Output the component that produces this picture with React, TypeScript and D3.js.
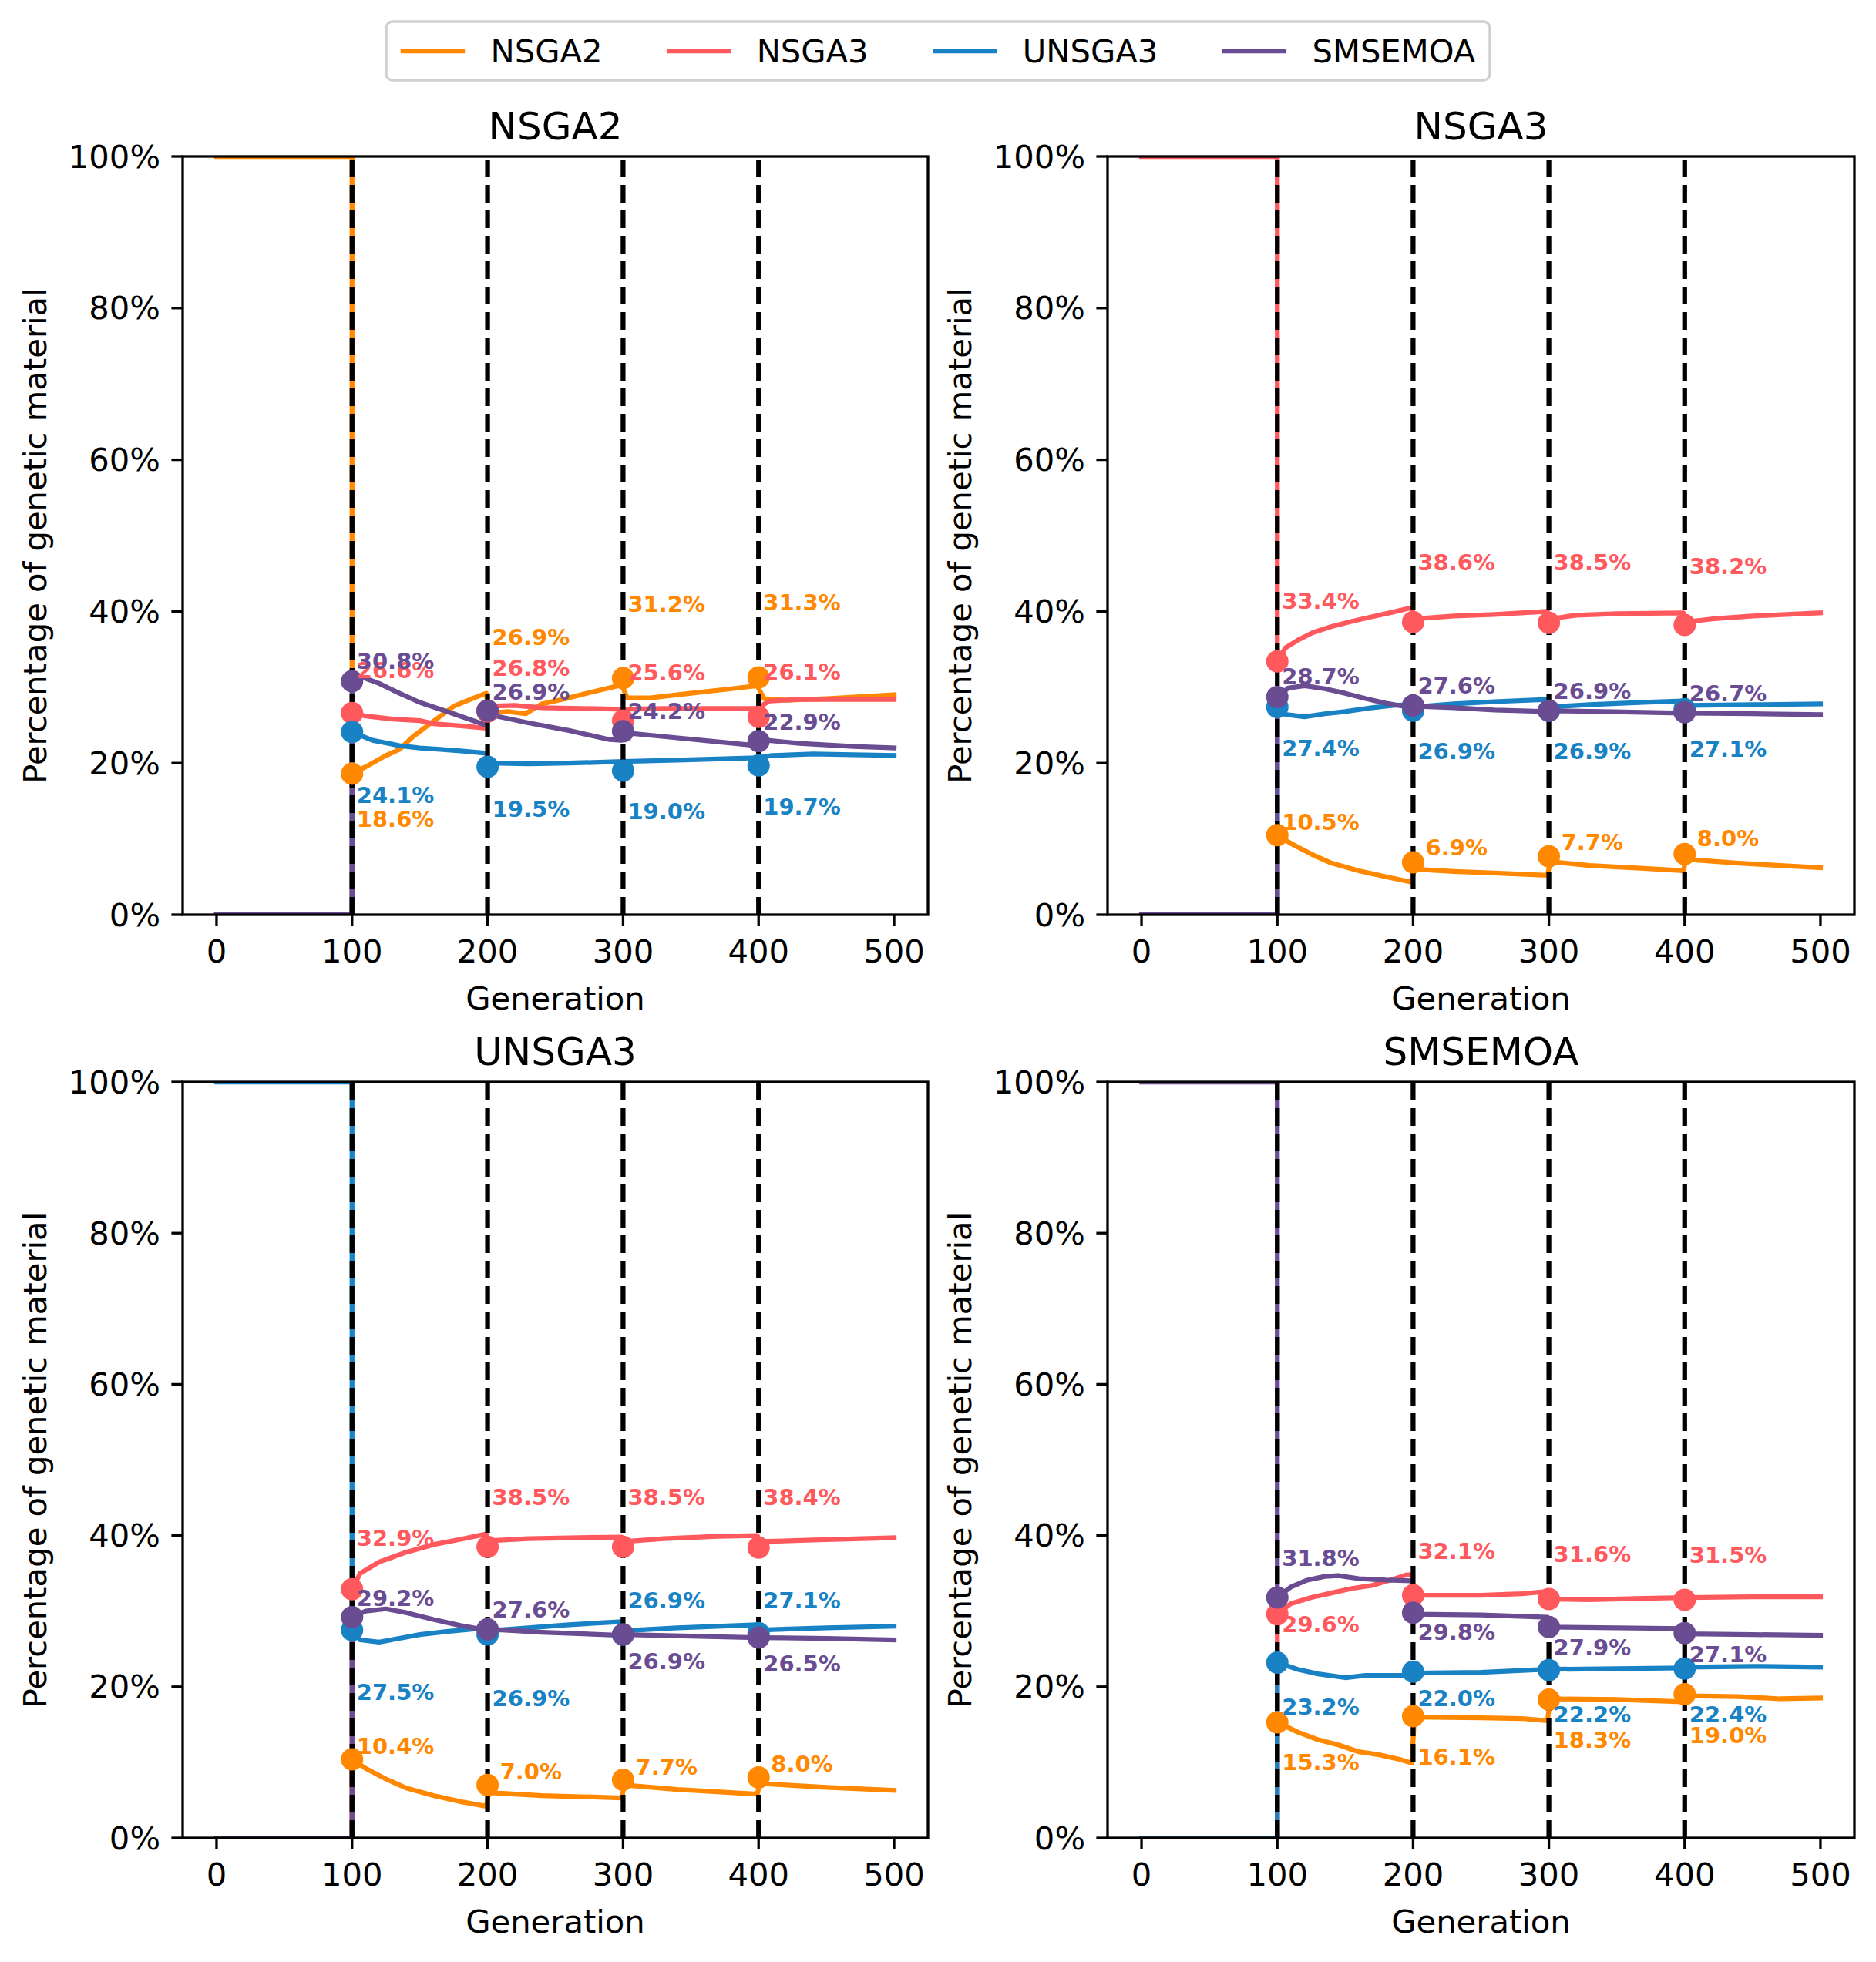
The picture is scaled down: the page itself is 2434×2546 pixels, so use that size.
import React, { useEffect, useRef } from "react";
import * as d3 from "d3";

const algorithms = ["NSGA2", "NSGA3", "UNSGA3", "SMSEMOA"];
const colors = ["#FF8800", "#FF595E", "#1982C4", "#6A4C93"];
const checkpoints = [100, 200, 300, 400];
const xTicks = [0, 100, 200, 300, 400, 500];
const yTicks = [0, 20, 40, 60, 80, 100];

// share (%) recorded at each checkpoint, rows follow `algorithms`
const nsga2Marks = [
  [18.6, 26.9, 31.2, 31.3],
  [26.6, 26.8, 25.6, 26.1],
  [24.1, 19.5, 19.0, 19.7],
  [30.8, 26.9, 24.2, 22.9],
];
const nsga3Marks = [
  [10.5, 6.9, 7.7, 8.0],
  [33.4, 38.6, 38.5, 38.2],
  [27.4, 26.9, 26.9, 27.1],
  [28.7, 27.6, 26.9, 26.7],
];
const unsga3Marks = [
  [10.4, 7.0, 7.7, 8.0],
  [32.9, 38.5, 38.5, 38.4],
  [27.5, 26.9, 26.9, 27.1],
  [29.2, 27.6, 26.9, 26.5],
];
const smsemoaMarks = [
  [15.3, 16.1, 18.3, 19.0],
  [29.6, 32.1, 31.6, 31.5],
  [23.2, 22.0, 22.2, 22.4],
  [31.8, 29.8, 27.9, 27.1],
];

// share of genetic material per generation: [generation, %]
const nsga2Trace = [
  [[0, 100], [100, 100], [100, 18.6], [110, 19.5], [125, 21], [135, 21.8], [145, 23.5], [160, 25.5], [175, 27.5], [190, 28.6], [199, 29.2], [201, 26.6], [215, 26.8], [228, 26.5], [240, 27.8], [260, 28.6], [280, 29.5], [299, 30.3], [303, 28.6], [320, 28.6], [350, 29.2], [380, 29.8], [399, 30.2], [404, 28.5], [420, 28.3], [450, 28.5], [480, 28.8], [500, 29.0]],
  [[0, 0], [100, 0], [100, 26.6], [110, 26.2], [130, 25.8], [150, 25.6], [160, 25.2], [180, 24.9], [199, 24.6], [201, 27.5], [220, 27.6], [240, 27.3], [270, 27.2], [300, 27.1], [330, 27.2], [360, 27.2], [399, 27.2], [408, 28.2], [430, 28.4], [470, 28.4], [500, 28.4]],
  [[0, 0], [100, 0], [100, 24.1], [115, 23.0], [135, 22.3], [150, 22.0], [165, 21.8], [180, 21.6], [199, 21.3], [201, 20.0], [230, 19.9], [260, 20.0], [300, 20.2], [340, 20.4], [399, 20.7], [410, 21.0], [440, 21.2], [470, 21.1], [500, 21.0]],
  [[0, 0], [100, 0], [100, 30.8], [108, 31.3], [120, 30.5], [135, 29.2], [150, 28.0], [170, 26.8], [199, 25.0], [201, 26.4], [230, 25.3], [260, 24.3], [290, 23.1], [299, 23.0], [301, 24.0], [330, 23.5], [370, 22.8], [399, 22.3], [401, 23.1], [430, 22.6], [470, 22.2], [500, 22.0]],
];
const nsga3Trace = [
  [[0, 0], [100, 0], [100, 10.5], [110, 9.4], [125, 8.0], [140, 6.8], [160, 5.8], [180, 5.0], [199, 4.3], [201, 6.0], [230, 5.7], [260, 5.5], [299, 5.2], [301, 7.0], [330, 6.5], [370, 6.1], [399, 5.8], [401, 7.3], [440, 6.8], [470, 6.5], [500, 6.2]],
  [[0, 100], [100, 100], [100, 33.4], [106, 35.2], [115, 36.2], [126, 37.2], [140, 38.0], [155, 38.7], [170, 39.3], [185, 39.9], [199, 40.5], [201, 39.0], [230, 39.4], [260, 39.6], [299, 40.0], [301, 39.0], [320, 39.5], [350, 39.7], [399, 39.8], [401, 38.6], [420, 39.0], [450, 39.4], [500, 39.8]],
  [[0, 0], [100, 0], [100, 27.4], [106, 26.4], [120, 26.1], [135, 26.5], [150, 26.8], [170, 27.3], [185, 27.6], [199, 27.7], [201, 27.4], [230, 27.8], [260, 28.1], [299, 28.4], [301, 27.4], [330, 27.7], [370, 28.0], [399, 28.2], [401, 27.6], [450, 27.7], [500, 27.8]],
  [[0, 0], [100, 0], [100, 28.7], [108, 29.9], [120, 30.2], [135, 29.8], [150, 29.2], [165, 28.5], [180, 27.9], [199, 27.3], [201, 27.5], [230, 27.3], [260, 27.0], [299, 26.8], [301, 26.9], [340, 26.8], [399, 26.6], [401, 26.6], [450, 26.5], [500, 26.4]],
];
const unsga3Trace = [
  [[0, 0], [100, 0], [100, 10.4], [110, 9.2], [125, 7.8], [140, 6.6], [160, 5.6], [180, 4.8], [199, 4.2], [201, 6.0], [240, 5.6], [299, 5.3], [301, 7.0], [340, 6.4], [399, 5.8], [401, 7.2], [450, 6.7], [500, 6.3]],
  [[0, 0], [100, 0], [100, 32.9], [106, 35.0], [120, 36.5], [140, 37.8], [160, 38.8], [180, 39.5], [199, 40.2], [201, 39.3], [230, 39.6], [260, 39.7], [299, 39.8], [301, 39.2], [330, 39.6], [370, 39.9], [399, 40.0], [401, 39.2], [440, 39.4], [500, 39.7]],
  [[0, 100], [100, 100], [100, 27.5], [106, 26.2], [120, 25.9], [135, 26.4], [150, 26.9], [170, 27.3], [199, 27.8], [201, 27.4], [230, 27.8], [260, 28.2], [299, 28.6], [301, 27.4], [340, 27.8], [399, 28.2], [401, 27.5], [450, 27.8], [500, 28.0]],
  [[0, 0], [100, 0], [100, 29.2], [110, 30.0], [125, 30.3], [140, 29.8], [160, 28.9], [180, 28.1], [199, 27.5], [201, 27.6], [240, 27.2], [299, 26.8], [301, 26.9], [350, 26.7], [399, 26.5], [401, 26.5], [450, 26.4], [500, 26.2]],
];
const smsemoaTrace = [
  [[0, 0], [100, 0], [100, 15.3], [115, 14.0], [130, 13.0], [145, 12.3], [160, 11.4], [175, 11.0], [190, 10.4], [199, 9.9], [201, 16.0], [250, 15.9], [280, 15.8], [299, 15.5], [301, 18.4], [350, 18.3], [399, 18.0], [401, 18.8], [440, 18.7], [470, 18.4], [500, 18.5]],
  [[0, 0], [100, 0], [100, 29.6], [110, 31.0], [125, 31.8], [140, 32.4], [155, 33.0], [170, 33.4], [185, 34.2], [195, 34.8], [199, 34.8], [201, 32.1], [250, 32.1], [280, 32.3], [299, 32.6], [301, 31.6], [330, 31.5], [370, 31.7], [399, 31.8], [401, 31.8], [450, 31.9], [500, 31.9]],
  [[0, 0], [100, 0], [100, 23.2], [115, 22.3], [130, 21.7], [150, 21.2], [165, 21.5], [185, 21.5], [199, 21.5], [201, 21.8], [250, 21.9], [299, 22.3], [301, 22.3], [350, 22.4], [399, 22.5], [401, 22.6], [450, 22.7], [500, 22.6]],
  [[0, 100], [100, 100], [100, 31.8], [110, 33.2], [122, 34.1], [135, 34.6], [145, 34.7], [160, 34.3], [180, 34.1], [199, 34.0], [201, 29.6], [250, 29.5], [299, 29.2], [301, 27.9], [350, 27.8], [399, 27.7], [401, 27.0], [450, 26.9], [500, 26.8]],
];

// vertical nudge of each value label, in percentage points
const nsga2Nudge = [[-6.0, 9.7, 9.8, 9.9], [5.6, 5.7, 6.3, 5.9], [-8.3, -5.6, -5.4, -5.5], [2.6, 2.5, 2.6, 2.5]];
const nsga3Nudge = [[1.7, 1.9, 1.9, 2.1], [8.0, 7.8, 7.9, 7.7], [-5.4, -5.4, -5.4, -5.3], [2.7, 2.6, 2.6, 2.5]];
const unsga3Nudge = [[1.7, 1.8, 1.7, 1.8], [6.8, 6.6, 6.6, 6.7], [-8.2, -8.4, 4.5, 4.3], [2.5, 2.6, -3.6, -3.5]];
const smsemoaNudge = [[-5.3, -5.4, -5.4, -5.4], [-1.4, 5.8, 5.9, 5.9], [-5.9, -3.5, -5.9, -6.1], [5.2, -2.6, -2.7, -2.8]];

const W = 2434;
const H = 2546;
const colX = [[237, 1204], [1437, 2406]];
const rowY = [[203, 1187], [1404, 2385]];
const FONT = "DejaVu Sans, sans-serif";

const panels = [
  { title: "NSGA2", marks: nsga2Marks, trace: nsga2Trace, nudge: nsga2Nudge, col: 0, row: 0 },
  { title: "NSGA3", marks: nsga3Marks, trace: nsga3Trace, nudge: nsga3Nudge, col: 1, row: 0 },
  { title: "UNSGA3", marks: unsga3Marks, trace: unsga3Trace, nudge: unsga3Nudge, col: 0, row: 1 },
  { title: "SMSEMOA", marks: smsemoaMarks, trace: smsemoaTrace, nudge: smsemoaNudge, col: 1, row: 1 },
];

const textWidth = (s: string, size: number) => {
  const ctx = document.createElement("canvas").getContext("2d")!;
  ctx.font = `${size}px DejaVu Sans`;
  return ctx.measureText(s).width;
};

const App = () => {
  const ref = useRef<SVGSVGElement>(null);

  useEffect(() => {
    const svg = d3.select(ref.current);
    svg.selectAll("*").remove();
    svg.append("rect").attr("width", W).attr("height", H).attr("fill", "white");

    const fmt = d3.format("4.1f");

    panels.forEach((p, pi) => {
      const [x0, x1] = colX[p.col];
      const [y0, y1] = rowY[p.row];
      const x = d3.scaleLinear().domain([-25, 525]).range([x0, x1]);
      const y = d3.scaleLinear().domain([0, 100]).range([y1, y0]);
      const g = svg.append("g");

      const clipId = `clip${pi}`;
      g.append("clipPath").attr("id", clipId)
        .append("rect").attr("x", x0).attr("y", y0).attr("width", x1 - x0).attr("height", y1 - y0);

      const line = d3.line<number[]>().x((d) => x(d[0])).y((d) => y(d[1]));
      const plot = g.append("g").attr("clip-path", `url(#${clipId})`);
      p.trace.forEach((pts, i) => {
        plot.append("path").attr("d", line(pts)).attr("fill", "none")
          .attr("stroke", colors[i]).attr("stroke-width", 6.25)
          .attr("stroke-linejoin", "round").attr("stroke-linecap", "square");
      });

      // checkpoint markers
      plot.selectAll("line.cp").data(checkpoints).enter().append("line")
        .attr("x1", (d) => x(d)).attr("x2", (d) => x(d))
        .attr("y1", y1).attr("y2", y0)
        .attr("stroke", "black").attr("stroke-width", 6.25)
        .attr("stroke-dasharray", "23 10");

      p.marks.forEach((vals, i) => {
        g.selectAll(null).data(vals).enter().append("circle")
          .attr("cx", (_, k) => x(checkpoints[k])).attr("cy", (d) => y(d))
          .attr("r", 14.5).attr("fill", colors[i]);
      });
      p.marks.forEach((vals, i) => {
        g.selectAll(null).data(vals).enter().append("text")
          .attr("x", (_, k) => x(checkpoints[k]) + 6)
          .attr("y", (d, k) => y(d + p.nudge[i][k]))
          .attr("dominant-baseline", "central")
          .style("white-space", "pre")
          .attr("font-family", FONT).attr("font-weight", "bold").attr("font-size", 29)
          .attr("fill", colors[i])
          .text((d) => `${fmt(d)}%`);
      });

      // frame
      g.append("rect").attr("x", x0).attr("y", y0).attr("width", x1 - x0).attr("height", y1 - y0)
        .attr("fill", "none").attr("stroke", "black").attr("stroke-width", 3.3);

      const xt = g.selectAll(null).data(xTicks).enter().append("g")
        .attr("transform", (d) => `translate(${x(d)},${y1})`);
      xt.append("line").attr("y2", 14.6).attr("stroke", "black").attr("stroke-width", 3.3);
      xt.append("text").attr("y", 62).attr("text-anchor", "middle")
        .attr("font-family", FONT).attr("font-size", 41.7).text((d) => String(d));

      const yt = g.selectAll(null).data(yTicks).enter().append("g")
        .attr("transform", (d) => `translate(${x0},${y(d)})`);
      yt.append("line").attr("x2", -14.6).attr("stroke", "black").attr("stroke-width", 3.3);
      yt.append("text").attr("x", -29).attr("text-anchor", "end").attr("dominant-baseline", "central")
        .attr("font-family", FONT).attr("font-size", 41.7).text((d) => `${d}%`);

      g.append("text").attr("x", (x0 + x1) / 2).attr("y", y1 + 123).attr("text-anchor", "middle")
        .attr("font-family", FONT).attr("font-size", 41.7).text("Generation");
      g.append("text")
        .attr("transform", `translate(${x0 - 177},${(y0 + y1) / 2}) rotate(-90)`)
        .attr("text-anchor", "middle")
        .attr("font-family", FONT).attr("font-size", 41.7).text("Percentage of genetic material");
      g.append("text").attr("x", (x0 + x1) / 2).attr("y", y0 - 22).attr("text-anchor", "middle")
        .attr("font-family", FONT).attr("font-size", 50).text(p.title);
    });

    // legend across the top
    const fs = 41.7;
    const handle = 2 * fs;
    const pad = 0.8 * fs;
    const gap = 2 * fs;
    const widths = algorithms.map((a) => textWidth(a, fs));
    const inner = d3.sum(widths) + algorithms.length * (handle + pad) + (algorithms.length - 1) * gap;
    const boxW = inner + 2 * 0.4 * fs + 4;
    const boxX = W / 2 - boxW / 2;
    const legend = svg.append("g");
    legend.append("rect").attr("x", boxX).attr("y", 28).attr("width", boxW).attr("height", 76)
      .attr("rx", 8).attr("fill", "white").attr("stroke", "#d0d0d0").attr("stroke-width", 3.3);
    let cx = boxX + 0.4 * fs + 2;
    algorithms.forEach((a, i) => {
      legend.append("line").attr("x1", cx).attr("x2", cx + handle).attr("y1", 66).attr("y2", 66)
        .attr("stroke", colors[i]).attr("stroke-width", 6.25);
      legend.append("text").attr("x", cx + handle + pad).attr("y", 66).attr("dominant-baseline", "central")
        .attr("font-family", FONT).attr("font-size", fs).text(a);
      cx += handle + pad + widths[i] + gap;
    });
  }, []);

  return (
    <svg ref={ref} width={W} height={H}
      style={{ position: "absolute", left: 0, top: 0, display: "block" }} />
  );
};

export default App;
